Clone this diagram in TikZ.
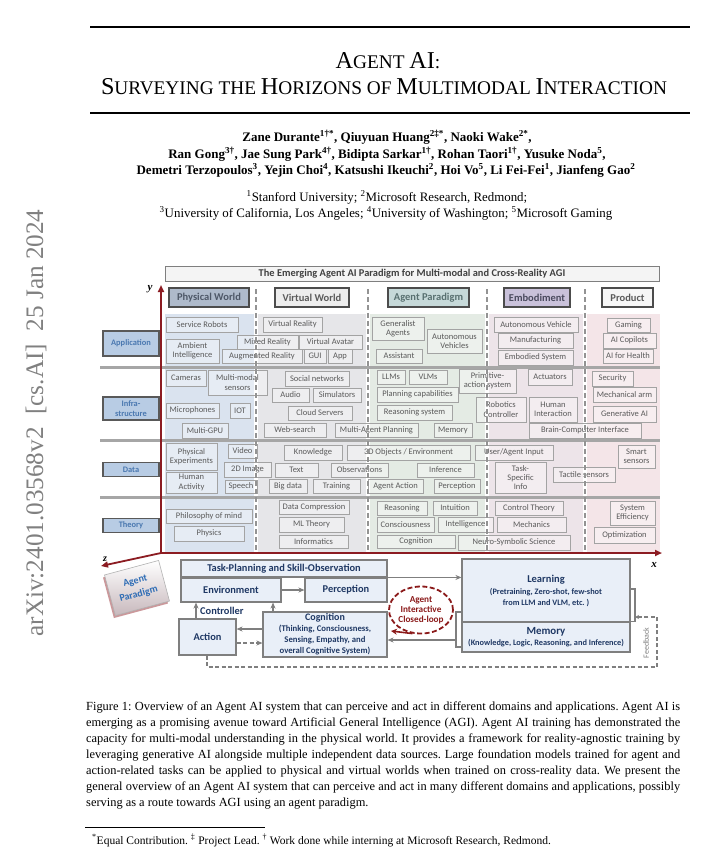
\documentclass[tikz,border=0pt]{standalone}
\usepackage{fontspec}
\setmainfont{Liberation Serif}
\newfontfamily\diafont{Carlito}
\usetikzlibrary{arrows.meta,shadows,calc,shapes.geometric}
\definecolor{physbg}{HTML}{DAE3EF}
\definecolor{virtbg}{HTML}{E6E6E9}
\definecolor{agentbg}{HTML}{E4EBE4}
\definecolor{embbg}{HTML}{EDE4E9}
\definecolor{prodbg}{HTML}{F4E5E8}
\definecolor{barcol}{HTML}{A6A6A6}
\definecolor{itemborder}{HTML}{A3A3A3}
\definecolor{itemtext}{HTML}{5A5A5A}
\definecolor{rowblue}{HTML}{B8CCE4}
\definecolor{rowtext}{HTML}{4A78B0}
\definecolor{hPhys}{HTML}{AEBACB}
\definecolor{hPhysT}{HTML}{4E5868}
\definecolor{hVirt}{HTML}{EDEDED}
\definecolor{hAg}{HTML}{C6D9D9}
\definecolor{hAgT}{HTML}{587070}
\definecolor{hEmb}{HTML}{C9C1DA}
\definecolor{hEmbT}{HTML}{4A4A5E}
\definecolor{hProd}{HTML}{F6F6F6}
\definecolor{axisred}{HTML}{8C1C22}
\definecolor{bfill}{HTML}{E9EFF8}
\definecolor{bborder}{HTML}{7F7F7F}
\definecolor{navy}{HTML}{1F3864}
\definecolor{loopred}{HTML}{8B1A1A}
\definecolor{apblue}{HTML}{2F6DB5}
\definecolor{apgray}{HTML}{C7B8BC}
\definecolor{stampgray}{HTML}{808080}
\newcommand\BSC[1]{{\fontsize{24.2}{24}\selectfont #1}}
\newcommand\itm[6]{\node[itembox, minimum width={(#4-#2)*1pt}, minimum height={(#5-#3)*1pt}] (#1) at ({(#2+#4)/2},{(#3+#5)/2}) {#6};}
\newcommand\bx[6]{\node[bbox, minimum width={(#4-#2)*1pt}, minimum height={(#5-#3)*1pt}] (#1) at ({(#2+#4)/2},{(#3+#5)/2}) {#6};}
\newcommand\capline[1]{\makebox[594pt][s]{#1}}
\frenchspacing
\begin{document}
\begin{tikzpicture}[x=1pt,y=-1pt,
 itembox/.style={draw=itemborder, fill=white, fill opacity=0.35, text opacity=1, draw opacity=1, line width=0.7pt, inner sep=0pt, align=center, text=itemtext, font=\diafont\fontsize{8.5}{9.4}\selectfont},
 rowlab/.style={draw=gray!70!black, fill=rowblue, line width=1.3pt, minimum width=56pt, inner sep=0pt, align=center, text=rowtext, font=\diafont\bfseries\fontsize{8.4}{9.4}\selectfont},
 hdr/.style={draw=gray!60!black, line width=1.5pt, minimum height=19pt, inner sep=0pt, text=itemtext, font=\diafont\bfseries\fontsize{10.5}{11}\selectfont},
 banner/.style={draw=bborder, fill=hVirt!60!white, line width=1pt, inner sep=0pt, text=black!75, font=\diafont\bfseries\fontsize{10.4}{11}\selectfont},
 bbox/.style={draw=bborder, fill=bfill, line width=1.1pt, inner sep=0pt, align=center, text=navy, font=\diafont\bfseries\fontsize{10.4}{11}\selectfont},
 garrow/.style={draw=bborder, line width=1.1pt, -{Stealth[length=6pt,width=5pt]}},
 colsep/.style={draw=gray!85, line width=1.1pt, dash pattern=on 5pt off 3pt},
 axisline/.style={draw=axisred, line width=1.8pt, -{Triangle[length=7pt,width=6pt]}},
 bracketline/.style={draw=bborder, line width=1.1pt},
 fbdash/.style={draw=bborder, line width=1.1pt, dash pattern=on 4pt off 2.5pt},
 captext/.style={anchor=base west, inner sep=0, font=\fontsize{12.4}{16}\selectfont}
]
\useasboundingbox (0,0) rectangle (706,854);
\fill[white] (0,0) rectangle (706,854);

% ---------- page header ----------
\draw[line width=1.5pt] (90,27) -- (690,27);
\draw[line width=1.5pt] (90,113) -- (690,113);
\node[anchor=base, inner sep=0] (title1) at (388,68) {\fontsize{19.3}{22}\selectfont\BSC{A}GENT \BSC{AI}:};
\node[anchor=base, inner sep=0] (title2) at (384,94) {\fontsize{19.3}{22}\selectfont\BSC{S}URVEYING THE \BSC{H}ORIZONS OF \BSC{M}ULTIMODAL \BSC{I}NTERACTION};
\node[anchor=base, inner sep=0, font=\bfseries\fontsize{13}{15}\selectfont] (au1) at (387,141) {Zane Durante\textsuperscript{1†*}, Qiuyuan Huang\textsuperscript{2‡*}, Naoki Wake\textsuperscript{2*},};
\node[anchor=base, inner sep=0, font=\bfseries\fontsize{13}{15}\selectfont] (au2) at (387,158) {Ran Gong\textsuperscript{3†}, Jae Sung Park\textsuperscript{4†}, Bidipta Sarkar\textsuperscript{1†}, Rohan Taori\textsuperscript{1†}, Yusuke Noda\textsuperscript{5},};
\node[anchor=base, inner sep=0, font=\bfseries\fontsize{13}{15}\selectfont] (au3) at (386,174) {Demetri Terzopoulos\textsuperscript{3}, Yejin Choi\textsuperscript{4}, Katsushi Ikeuchi\textsuperscript{2}, Hoi Vo\textsuperscript{5}, Li Fei-Fei\textsuperscript{1}, Jianfeng Gao\textsuperscript{2}};
\node[anchor=base, inner sep=0, font=\fontsize{12.9}{15}\selectfont] (af1) at (387,201) {\textsuperscript{1}Stanford University; \textsuperscript{2}Microsoft Research, Redmond;};
\node[anchor=base, inner sep=0, font=\fontsize{12.9}{15}\selectfont] (af2) at (386,217) {\textsuperscript{3}University of California, Los Angeles; \textsuperscript{4}University of Washington; \textsuperscript{5}Microsoft Gaming};

\node[rotate=90, text=stampgray, inner sep=0] (stamp) at (36,423) {\resizebox{427pt}{!}{\fontsize{20}{20}\selectfont arXiv:2401.03568v2\ \ [cs.AI]\ \ 25 Jan 2024}};

% ---------- grid backgrounds ----------
\fill[physbg] (165,314) rectangle (254,552);
\fill[virtbg] (258,314) rectangle (366,552);
\fill[agentbg] (370,314) rectangle (485,552);
\fill[embbg] (489,314) rectangle (583,552);
\fill[prodbg] (587,314) rectangle (660,552);
\foreach \yy in {367,440,497} \draw[barcol, line width=3pt] (100,\yy) -- (660,\yy);

% ---------- application row ----------
\itm{sr}{166}{317}{238}{332}{Service Robots}
\itm{ai}{166}{339}{219}{363}{Ambient\\Intelligence}
\itm{mr}{237}{335}{298}{349}{Mixed Reality}
\itm{va}{299}{335}{362}{349}{Virtual Avatar}
\itm{ar}{222}{349}{302}{363}{Augmented Reality}
\itm{gui}{304}{349}{326}{363}{GUI}
\itm{app}{328}{349}{352}{363}{App}
\itm{vr}{263}{317}{322}{332}{Virtual Reality}
\itm{ga}{372}{317}{424}{340}{Generalist\\Agents}
\itm{av}{427}{329}{482}{353}{Autonomous\\Vehicles}
\itm{as}{376}{349}{422}{363}{Assistant}
\itm{avh}{494}{317}{578}{332}{Autonomous Vehicle}
\itm{mf}{498}{333}{573}{348}{Manufacturing}
\itm{es}{498}{350}{573}{365}{Embodied System}
\itm{gm}{607}{318}{650}{332}{Gaming}
\itm{cop}{603}{333}{656}{348}{AI Copilots}
\itm{afh}{603}{349}{653}{363}{AI for Health}

% ---------- infrastructure row ----------
\itm{cam}{166}{370}{206}{386}{Cameras}
\itm{mms}{208}{370}{267}{395}{Multi-modal\\sensors}
\itm{mic}{166}{403}{219}{418}{Microphones}
\itm{iot}{230}{403}{250}{418}{IOT}
\itm{gpu}{182}{423}{228}{438}{Multi-GPU}
\itm{sn}{285}{371}{349}{386}{Social networks}
\itm{au}{272}{388}{309}{402}{Audio}
\itm{sim}{313}{388}{361}{402}{Simulators}
\itm{cs}{288}{406}{352}{420}{Cloud Servers}
\itm{ws}{264}{423}{326}{437}{Web-search}
\itm{map}{335}{423}{418}{437}{Multi-Agent Planning}
\itm{mem2}{434}{423}{472}{437}{Memory}
\itm{llm}{377}{370}{405}{384}{LLMs}
\itm{vlm}{409}{370}{447}{384}{VLMs}
\itm{pas}{459}{369}{516}{393}{Primitive-\\action system}
\itm{pc}{377}{387}{458}{402}{Planning capabilities}
\itm{rs}{377}{405}{452}{420}{Reasoning system}
\itm{rc}{476}{397}{526}{422}{Robotics\\Controller}
\itm{hi}{529}{397}{577}{422}{Human\\Interaction}
\itm{act2}{528}{369}{572}{385}{Actuators}
\itm{bci}{529}{423}{641}{438}{Brain-Computer Interface}
\itm{sec}{592}{371}{633}{386}{Security}
\itm{ma}{593}{387}{656}{402}{Mechanical arm}
\itm{gai}{593}{406}{656}{422}{Generative AI}

% ---------- data row ----------
\itm{pe}{166}{443}{217}{470}{Physical\\Experiments}
\itm{ha}{166}{472}{217}{493}{Human\\Activity}
\itm{vid}{228}{444}{257}{458}{Video}
\itm{img}{224}{462}{271}{477}{2D Image}
\itm{sp}{225}{480}{257}{493}{Speech}
\itm{kn}{284}{445}{342}{460}{Knowledge}
\itm{tx}{275}{463}{318}{477}{Text}
\itm{obs}{331}{463}{388}{477}{Observations}
\itm{bd}{269}{479}{307}{493}{Big data}
\itm{tr}{313}{479}{360}{493}{Training}
\itm{obj}{347}{445}{470}{460}{3D Objects / Environment}
\itm{infr}{417}{463}{474}{477}{Inference}
\itm{aa}{368}{479}{423}{493}{Agent Action}
\itm{per}{434}{479}{480}{493}{Perception}
\itm{uai}{475}{445}{553}{460}{User/Agent Input}
\itm{tsi}{495}{462}{546}{493}{Task-\\Specific\\Info}
\itm{ts}{553}{467}{615}{482}{Tactile sensors}
\itm{ss}{618}{445}{655}{468}{Smart\\sensors}

% ---------- theory row ----------
\itm{pom}{166}{509}{252}{523}{Philosophy of mind}
\itm{phy}{174}{526}{244}{541}{Physics}
\itm{dc}{279}{500}{349}{514}{Data Compression}
\itm{ml}{279}{517}{344}{532}{ML Theory}
\itm{ifm}{279}{535}{348}{548}{Informatics}
\itm{rea}{377}{501}{427}{515}{Reasoning}
\itm{intu}{433}{501}{477}{515}{Intuition}
\itm{con}{377}{517}{434}{532}{Consciousness}
\itm{itl}{438}{517}{493}{532}{Intelligence}
\itm{cgt}{377}{535}{455}{548}{Cognition}
\itm{nss}{458}{535}{570}{550}{Neuro-Symbolic Science}
\itm{ct}{495}{501}{563}{515}{Control Theory}
\itm{mec}{497}{517}{566}{532}{Mechanics}
\itm{se}{610}{501}{655}{525}{System\\Efficiency}
\itm{opt}{594}{527}{655}{543}{Optimization}

% ---------- column separators ----------
\foreach \xx in {256,368,487,585} \draw[colsep] (\xx,289) -- (\xx,552);

% ---------- headers ----------
\node[banner, minimum width=494pt, minimum height=15pt] (ban) at (412,273.5) {The Emerging Agent AI Paradigm for Multi-modal and Cross-Reality AGI};
\node[hdr, fill=hPhys, text=hPhysT, minimum width=80pt] (hP) at (209,297.5) {Physical World};
\node[hdr, fill=hVirt, minimum width=74pt] (hV) at (312,297.5) {Virtual World};
\node[hdr, fill=hAg, text=hAgT, minimum width=81pt] (hA) at (428.5,297.5) {Agent Paradigm};
\node[hdr, fill=hEmb, text=hEmbT, minimum width=66pt] (hE) at (537,297.5) {Embodiment};
\node[hdr, fill=hProd, minimum width=51pt] (hPr) at (627.5,297.5) {Product};

\node[rowlab, minimum height=25pt] (rApp) at (131,343.5) {Application};
\node[rowlab, minimum height=23pt] (rInf) at (131,408.5) {Infra-\\structure};
\node[rowlab, minimum height=14pt] (rDat) at (131,469.5) {Data};
\node[rowlab, minimum height=14pt] (rThe) at (131,525.5) {Theory};

% ---------- axes ----------
\coordinate (o) at (161,553);
\coordinate (ytip) at (161,285);
\coordinate (xtip) at (662,553);
\coordinate (ztip) at (101,566);
\draw[axisline] (o) -- (ytip);
\draw[axisline] (o) -- (xtip);
\draw[axisline] (o) -- (ztip);
\node[font=\bfseries\itshape\fontsize{11}{11}\selectfont, inner sep=0] (ylab) at (150,289) {y};
\node[font=\bfseries\itshape\fontsize{11}{11}\selectfont, inner sep=0] (xlab) at (654,565) {x};
\node[font=\bfseries\itshape\fontsize{10}{10}\selectfont, inner sep=0] (zlab) at (105,559) {z};

\node[rotate=15, minimum width=56pt, minimum height=42pt, inner sep=0, top color=white, bottom color=apgray, draw=gray!60, line width=0.6pt, drop shadow={fill=axisred, opacity=0.45, shadow xshift=-1.5pt, shadow yshift=-2.5pt}, align=center, text=apblue, font=\diafont\bfseries\fontsize{10}{13.5}\selectfont] (apb) at (137,588) {Agent\\Paradigm};

% ---------- bottom loop diagram ----------
\bx{tp}{181}{560}{387}{577}{Task-Planning and Skill-Observation}
\bx{env}{181}{578}{281}{602}{Environment}
\bx{perc}{305}{578}{387}{602}{Perception}
\bx{lrn}{462}{559}{630}{622}{{\fontsize{10.5}{12}\selectfont Learning}\\[1pt]{\fontsize{8.3}{10}\selectfont (Pretraining, Zero-shot, few-shot}\\{\fontsize{8.3}{10}\selectfont from LLM and VLM, etc. )}}
\bx{mem}{462}{622}{630}{652}{{\fontsize{10.9}{12}\selectfont Memory}\\{\fontsize{8.3}{10}\selectfont (Knowledge, Logic, Reasoning, and Inference)}}
\bx{cogn}{263}{612}{387}{657}{{\fontsize{10}{10}\selectfont Cognition}\\{\fontsize{8.7}{9}\selectfont (Thinking, Consciousness,}\\{\fontsize{8.7}{9}\selectfont Sensing, Empathy, and}\\{\fontsize{8.7}{9}\selectfont overall Cognitive System)}}
\bx{act}{179}{619}{236}{655}{Action}

\draw[garrow] (env) -- (perc);
\draw[garrow] (perc.north east) -- (perc.north east -| lrn.west);
\coordinate (c1) at (250,629);
\coordinate (c2) at (250,643);
\draw[garrow] (cogn.west |- c1) -- (act.east |- c1);
\draw[garrow, dash pattern=on 4pt off 2.5pt] (act.east |- c2) -- (cogn.west |- c2);
\coordinate (k1) at (196,610);
\coordinate (k2) at (273,610);
\draw[garrow] (k1 |- act.north) -- (k1 |- env.south);
\draw[garrow] (k2 |- cogn.north) -- (k2 |- env.south);
\node[font=\diafont\bfseries\fontsize{10.4}{11}\selectfont, text=navy, anchor=west, inner sep=0] (ctrl) at (200,611) {Controller};

\coordinate (rb1) at (635,589);
\draw[bracketline] (rb1 -| lrn.east) -- (rb1) -- (rb1 |- mem.north) -- (mem.north east);
\coordinate (lb1) at (456,612);
\coordinate (lb2) at (456,647);
\draw[bracketline] (lb1 -| lrn.west) -- (lb1) -- (lb2) -- (lb2 -| mem.west);
\coordinate (m1) at (456,640);
\draw[garrow] (m1) -- (m1 -| cogn.east);

\node[ellipse, draw=loopred, line width=1.8pt, dash pattern=on 5pt off 2.5pt, minimum width=64pt, minimum height=47pt, align=center, text=loopred, font=\diafont\bfseries\fontsize{9.2}{10}\selectfont, inner sep=0] (loop) at (421,610) {Agent\\Interactive\\Closed-loop};
\coordinate (lt) at (391,631);
\draw[draw=loopred, line width=1.6pt, -{Stealth[length=6pt,width=6pt]}] (loop.250) -- (lt);

\coordinate (fb1) at (207,667);
\coordinate (fb2) at (657,617);
\draw[fbdash, -{Stealth[length=4pt,width=4pt]}] (act.south -| fb1) -- (fb1) -- (fb1 -| fb2) -- (fb2) -- (fb2 -| rb1);
\node[rotate=90, text=gray, font=\diafont\fontsize{8}{8}\selectfont, inner sep=0] (fbl) at (646,643) {Feedback};

% ---------- caption ----------
\node[captext] (cap1) at (86,710) {\capline{Figure 1: Overview of an Agent AI system that can perceive and act in different domains and applications. Agent AI is}};
\node[captext] (cap2) at (86,726) {\capline{emerging as a promising avenue toward Artificial General Intelligence (AGI). Agent AI training has demonstrated the}};
\node[captext] (cap3) at (86,742) {\capline{capacity for multi-modal understanding in the physical world. It provides a framework for reality-agnostic training by}};
\node[captext] (cap4) at (86,758) {\capline{leveraging generative AI alongside multiple independent data sources. Large foundation models trained for agent and}};
\node[captext] (cap5) at (86,774) {\capline{action-related tasks can be applied to physical and virtual worlds when trained on cross-reality data. We present the}};
\node[captext] (cap6) at (86,790) {\capline{general overview of an Agent AI system that can perceive and act in many different domains and applications, possibly}};
\node[captext] (cap7) at (86,806) {serving as a route towards AGI using an agent paradigm.};

\draw[line width=0.5pt] (85,827) -- (265,827);
\node[anchor=base west, inner sep=0, font=\fontsize{11.5}{13}\selectfont] (fn) at (92,844) {\textsuperscript{*}Equal Contribution. \textsuperscript{‡} Project Lead. \textsuperscript{†} Work done while interning at Microsoft Research, Redmond.};
\end{tikzpicture}
\end{document}
